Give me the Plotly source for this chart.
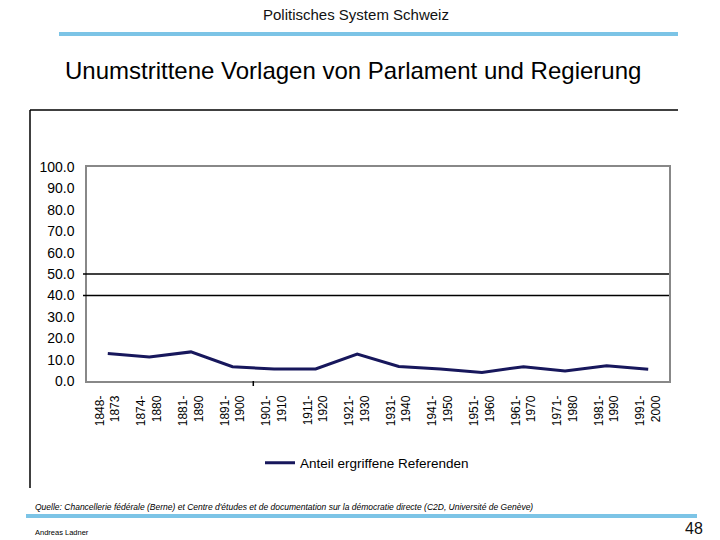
import plotly.graph_objects as go

periods = ["1848-1873", "1874-1880", "1881-1890", "1891-1900", "1901-1910",
           "1911-1920", "1921-1930", "1931-1940", "1941-1950", "1951-1960",
           "1961-1970", "1971-1980", "1981-1990", "1991-2000"]
anteil = [12.8, 11.2, 13.6, 6.7, 5.6, 5.6, 12.6, 6.8, 5.6, 4.0, 6.7, 4.7, 7.1, 5.5]
tick_labels = [p.replace("-", "-<br>") for p in periods]
ref_lines = [50, 40]

W, H = 720, 540
L, R, T, B = 87, 669, 167, 381  # plot area in pixels


def px(x):
    return (x - L) / (R - L)


def py(y):
    return (B - y) / (B - T)


fig = go.Figure()
fig.add_trace(go.Scatter(
    x=periods, y=anteil, mode="lines", name="Anteil ergriffene Referenden",
    line=dict(color="#17175c", width=3), showlegend=True,
))

shapes = []
for v in ref_lines:
    shapes.append(dict(type="line", xref="paper", yref="y", x0=px(83), x1=1,
                       y0=v, y1=v, line=dict(color="black", width=1.5)))
# odd single tick mark on x axis
shapes.append(dict(type="line", xref="x", yref="paper", x0=3.5, x1=3.5,
                   y0=0, y1=py(386), line=dict(color="black", width=1.5)))
# outer frame (top and left)
shapes.append(dict(type="line", xref="paper", yref="paper", x0=px(30), x1=px(678),
                   y0=py(110), y1=py(110), line=dict(color="black", width=1.5)))
shapes.append(dict(type="line", xref="paper", yref="paper", x0=px(30), x1=px(30),
                   y0=py(110), y1=py(488), line=dict(color="black", width=1.5)))
# blue rules
shapes.append(dict(type="line", xref="paper", yref="paper", x0=px(59), x1=px(678),
                   y0=py(34), y1=py(34), line=dict(color="#7cc4e6", width=4)))
shapes.append(dict(type="line", xref="paper", yref="paper", x0=px(26), x1=px(697),
                   y0=py(516), y1=py(516), line=dict(color="#7cc4e6", width=4)))

annotations = [
    dict(text="Politisches System Schweiz", x=px(356), y=py(15), xref="paper", yref="paper",
         showarrow=False, xanchor="center", yanchor="middle",
         font=dict(family="Arial", size=15, color="#111111")),
    dict(text="Unumstrittene Vorlagen von Parlament und Regierung", x=px(353), y=py(71),
         xref="paper", yref="paper", showarrow=False, xanchor="center", yanchor="middle",
         font=dict(family="Arial", size=24, color="black")),
    dict(text="<i>Quelle: Chancellerie fédérale (Berne) et Centre d'études et de documentation sur la démocratie directe (C2D, Université de Genève)</i>",
         x=px(33), y=py(507), xref="paper", yref="paper", showarrow=False,
         xanchor="left", yanchor="middle",
         font=dict(family="Arial", size=8.5, color="black")),
    dict(text="Andreas Ladner", x=px(33), y=py(532), xref="paper", yref="paper",
         showarrow=False, xanchor="left", yanchor="middle",
         font=dict(family="Arial", size=7.5, color="black")),
    dict(text="48", x=px(705), y=py(528), xref="paper", yref="paper",
         showarrow=False, xanchor="right", yanchor="middle",
         font=dict(family="Arial", size=16, color="#111111")),
]

fig.update_layout(
    width=W, height=H,
    margin=dict(l=L, r=W - R, t=T, b=H - B, pad=0),
    paper_bgcolor="white", plot_bgcolor="white",
    font=dict(family="Arial", color="black"),
    shapes=shapes, annotations=annotations,
    showlegend=True,
    legend=dict(orientation="h", x=px(367), y=py(463), xanchor="center", yanchor="middle",
                font=dict(family="Arial", size=13.5, color="black"),
                bgcolor="rgba(0,0,0,0)"),
    xaxis=dict(
        type="category", tickmode="array", tickvals=periods, ticktext=tick_labels,
        tickangle=-90, showgrid=False, showline=True, mirror=True,
        linecolor="#888888", linewidth=1.5, zeroline=False,
        ticks="outside", ticklen=8, tickcolor="rgba(0,0,0,0)",
        tickfont=dict(family="Arial", size=12, color="black"),
        range=[-0.5, len(periods) - 0.5],
    ),
    yaxis=dict(
        range=[0, 100], tickmode="array", tickvals=list(range(0, 101, 10)),
        tickformat=".1f", showgrid=False, showline=True, mirror=True,
        linecolor="#888888", linewidth=1.5, zeroline=False,
        ticks="outside", ticklen=8, tickcolor="rgba(0,0,0,0)",
        tickfont=dict(family="Arial", size=14, color="black"),
    ),
)

fig.write_html("out.html", config={"displayModeBar": False},
               post_script="document.body.style.margin='0px';document.body.style.padding='0px';")
